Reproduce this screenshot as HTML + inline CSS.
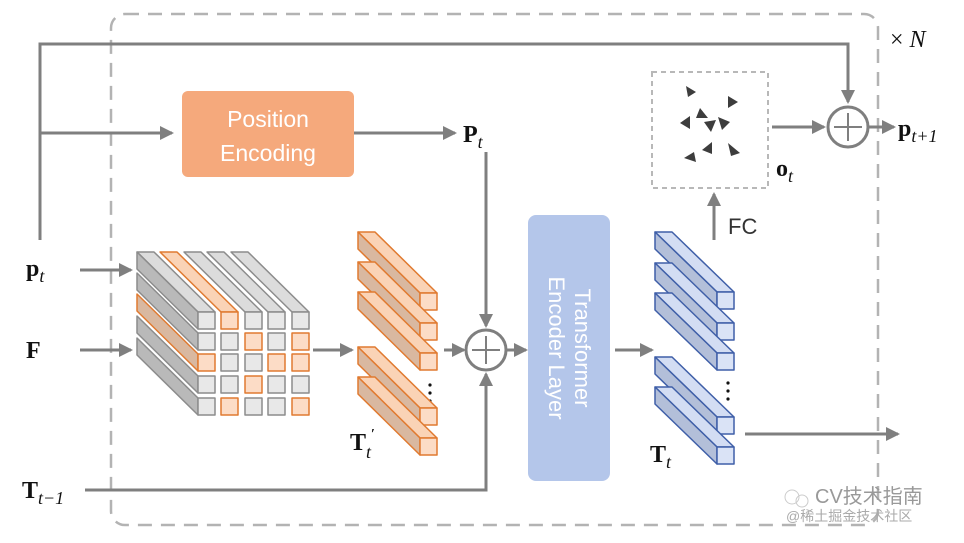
<!DOCTYPE html>
<html><head><meta charset="utf-8"><style>
html,body{margin:0;padding:0;background:#fff;width:964px;height:543px;overflow:hidden}
text{font-family:"Liberation Serif",serif}
</style></head><body>
<svg id="s" width="964" height="543" viewBox="0 0 964 543" xmlns="http://www.w3.org/2000/svg">
<defs><marker id="a" markerWidth="10" markerHeight="10" refX="8" refY="5" orient="auto" markerUnits="userSpaceOnUse"><path d="M0,0 L10,5 L0,10 z" fill="#7f7f7f"/></marker>
<marker id="b" markerWidth="14" markerHeight="14" refX="12" refY="7" orient="auto" markerUnits="userSpaceOnUse"><path d="M0,0 L14,7 L0,14 z" fill="#7f7f7f"/></marker></defs>
<rect x="111" y="14" width="767" height="511" rx="14" fill="none" stroke="#b3b3b3" stroke-width="2.5" stroke-dasharray="14,9"/>
<g stroke="#7f7f7f" stroke-width="3" fill="none">
<polyline points="40,240 40,44 848,44 848,102" marker-end="url(#b)"/>
<line x1="40" y1="133" x2="172" y2="133" marker-end="url(#b)"/>
<line x1="354" y1="133" x2="455" y2="133" marker-end="url(#b)"/>
<line x1="486" y1="152" x2="486" y2="326" marker-end="url(#b)"/>
<line x1="80" y1="270" x2="131" y2="270" marker-end="url(#b)"/>
<line x1="80" y1="350" x2="131" y2="350" marker-end="url(#b)"/>
<line x1="313" y1="350" x2="352" y2="350" marker-end="url(#b)"/>
<line x1="444" y1="350" x2="464" y2="350" marker-end="url(#b)"/>
<polyline points="85,490 486,490 486,374" marker-end="url(#b)"/>
<line x1="507" y1="350" x2="526" y2="350" marker-end="url(#b)"/>
<line x1="615" y1="350" x2="652" y2="350" marker-end="url(#b)"/>
<line x1="745" y1="434" x2="898" y2="434" marker-end="url(#b)"/>
<line x1="714" y1="240" x2="714" y2="194" marker-end="url(#b)"/>
<line x1="772" y1="127" x2="824" y2="127" marker-end="url(#b)"/>
<line x1="869" y1="127" x2="894" y2="127" marker-end="url(#b)"/>
<circle cx="486" cy="350" r="20" stroke-width="3"/>
<path d="M472,350 H500 M486,336 V364" stroke-width="2"/>
<circle cx="848" cy="127" r="20" stroke-width="3"/>
<path d="M834,127 H862 M848,113 V141" stroke-width="2"/>
</g>
<rect x="182" y="91" width="172" height="86" rx="6" fill="#f5a97c"/>
<text x="268" y="127" font-family="Liberation Sans" font-size="23" fill="#fff" text-anchor="middle" style="font-family:'Liberation Sans',sans-serif">Position</text>
<text x="268" y="161" font-size="23" fill="#fff" text-anchor="middle" style="font-family:'Liberation Sans',sans-serif">Encoding</text>
<rect x="528" y="215" width="82" height="266" rx="8" fill="#b4c6ea"/>
<g transform="translate(569,348) rotate(90)"><text x="0" y="-6" font-size="22" fill="#fff" text-anchor="middle" style="font-family:'Liberation Sans',sans-serif">Transformer</text><text x="0" y="20" font-size="22" fill="#fff" text-anchor="middle" style="font-family:'Liberation Sans',sans-serif">Encoder Layer</text></g>
<rect x="652" y="72" width="116" height="116" fill="none" stroke="#b8b8b8" stroke-width="2" stroke-dasharray="5,4"/>
<g fill="#3d3d3d">
<path d="M686,86 l10,6 l-8,5z"/><path d="M700,108 l8,10 l-12,0z"/><path d="M728,96 l10,6 l-10,6z"/>
<path d="M680,123 l10,-7 l0,13z"/><path d="M704,122 l12,-2 l-5,12z"/><path d="M718,117 l12,5 l-8,8z"/>
<path d="M684,158 l10,-6 l2,10z"/><path d="M702,150 l10,-8 l0,12z"/><path d="M728,143 l12,10 l-9,3z"/>
</g>
<text x="712" y="234" font-size="22" fill="#333" style="font-family:'Liberation Sans',sans-serif" dx="16">FC</text>
<g font-size="24" fill="#111">
<text x="463" y="142" font-weight="bold">P<tspan font-style="italic" font-weight="normal" font-size="18" dy="6">t</tspan></text>
<text x="26" y="276" font-weight="bold">p<tspan font-style="italic" font-weight="normal" font-size="18" dy="6">t</tspan></text>
<text x="26" y="358" font-weight="bold">F</text>
<text x="22" y="498" font-weight="bold">T<tspan font-style="italic" font-weight="normal" font-size="18" dy="6">t−1</tspan></text>
<text x="776" y="176" font-weight="bold">o<tspan font-style="italic" font-weight="normal" font-size="18" dy="6">t</tspan></text>
<text x="898" y="136" font-weight="bold">p<tspan font-style="italic" font-weight="normal" font-size="18" dy="6">t+1</tspan></text>
<text x="890" y="47" font-size="24">× <tspan font-style="italic">N</tspan></text>
<text x="350" y="450" font-weight="bold">T<tspan font-style="italic" font-weight="normal" font-size="18" dy="8">t</tspan><tspan font-size="14" dy="-20">′</tspan></text>
<text x="650" y="462" font-weight="bold">T<tspan font-style="italic" font-weight="normal" font-size="18" dy="6">t</tspan></text>
</g>
<g fill="#111"><circle cx="430" cy="385" r="1.6"/><circle cx="430" cy="393" r="1.6"/><circle cx="430" cy="401" r="1.6"/>
<circle cx="728" cy="383" r="1.6"/><circle cx="728" cy="391" r="1.6"/><circle cx="728" cy="399" r="1.6"/></g>
<g id="bars"></g>
<text x="815" y="503" font-size="20" fill="#999" style="font-family:'Liberation Sans','Noto Sans CJK SC',sans-serif">CV技术指南</text>
<text x="786" y="521" font-size="14" fill="#aaa" style="font-family:'Liberation Sans','Noto Sans CJK SC',sans-serif">@稀土掘金技术社区</text>
<circle cx="792" cy="497" r="7" fill="none" stroke="#ccc"/><circle cx="802" cy="501" r="6" fill="none" stroke="#ccc"/>
</svg>
<script>
var g=document.getElementById('bars'),NS='http://www.w3.org/2000/svg';
function poly(pts,f,s){var p=document.createElementNS(NS,'polygon');p.setAttribute('points',pts.map(function(a){return a.join(',')}).join(' '));p.setAttribute('fill',f);p.setAttribute('stroke',s);p.setAttribute('stroke-width','1.5');p.setAttribute('stroke-linejoin','round');g.appendChild(p);}
var C={g:['#e8e8e8','#dcdcdc','#b9b9b9','#8c8c8c'],o:['#fcdcc6','#fad3b6','#d9b8a0','#e07a30'],b:['#dae3f6','#d3ddf3','#b3bfd9','#3f5fa8']};
function bar(x,y,w,dx,dy,c,top,left){var k=C[c];
 if(top)poly([[x,y],[x+w,y],[x+w+dx,y+dy],[x+dx,y+dy]],k[1],k[3]);
 if(left)poly([[x,y],[x,y+w],[x+dx,y+w+dy],[x+dx,y+dy]],k[2],k[3]);
 poly([[x,y],[x+w,y],[x+w,y+w],[x,y+w]],k[0],k[3]);}
// cube
var cols=[198,221,245,268,292],rows=[312,333,354,376,398];
var orange={'0,1':1,'1,2':1,'1,4':1,'2,0':1,'2,3':1,'2,4':1,'3,2':1,'4,1':1,'4,4':1};
for(var c=4;c>=0;c--){var k=c==1?'o':'g';var x=cols[c],y=rows[0];poly([[x,y],[x+17,y],[x+17-61,y-60],[x-61,y-60]],C[k][1],C[k][3]);}
for(var r=4;r>=0;r--){var k=r==2?'o':'g';var x=cols[0],y=rows[r];poly([[x,y],[x,y+17],[x-61,y+17-60],[x-61,y-60]],C[k][2],C[k][3]);}
for(var r=0;r<5;r++)for(var c=0;c<5;c++){var k=orange[r+','+c]?'o':'g';var x=cols[c],y=rows[r];poly([[x,y],[x+17,y],[x+17,y+17],[x,y+17]],C[k][0],C[k][3]);}
// T' bars
[293,323,353,408,438].forEach(function(y){bar(420,y,17,-62,-61,'o',1,1);});
[292,323,353,417,447].forEach(function(y){bar(717,y,17,-62,-60,'b',1,1);});
</script>
</body></html>
